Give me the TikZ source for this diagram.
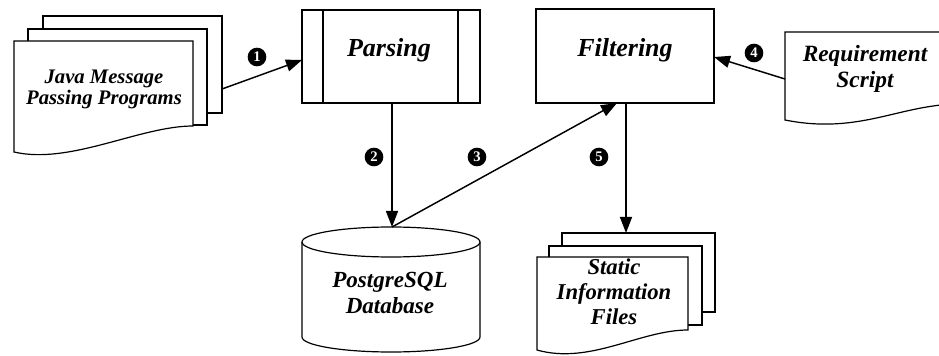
\documentclass[tikz,border=0pt]{standalone}
\usepackage{fontspec}
\setmainfont{Liberation Serif}
\newfontfamily\capfont{Liberation Serif Bold Italic}
\newfontfamily\numfont{Liberation Serif Bold}
\usetikzlibrary{arrows.meta}
\begin{document}
\begin{tikzpicture}[x=0.75pt,y=-0.75pt,
  outline/.style={draw=black,line width=0.9pt,fill=white},
  flow/.style={draw=black,line width=1.1pt,-{Triangle[length=12pt,width=9pt]}},
  stepnum/.style={circle,fill=black,text=white,inner sep=0pt,minimum size=14pt,
    font=\numfont\fontsize{11}{11}\selectfont},
  caption/.style={align=center,inner sep=0pt}
]
\useasboundingbox (0,0) rectangle (939,356);
\clip (0,0) rectangle (939,356);

% Java programs: a stack of three documents
\draw[outline] (43,16) rectangle (222,113);
\draw[outline] (28,29) rectangle (207,125);
\draw[outline] (14,41) -- (193,41) -- (193,126)
  .. controls (140,126) and (70,165) .. (14,152) -- cycle;

% Parsing process (predefined process box)
\draw[outline] (302,10) rectangle (480,103);
\draw[line width=0.9pt] (323,10) -- (323,103);
\draw[line width=0.9pt] (458,10) -- (458,103);

% Filtering process
\draw[outline] (536,9) rectangle (714,103);

% Requirement script document (runs off the right edge)
\draw[outline] (785,32) -- (960,32) -- (960,104)
  .. controls (900,104) and (860,135) .. (785,120) -- cycle;

% PostgreSQL database cylinder
\draw[outline] (302,242) -- (302,337)
  arc[start angle=180,end angle=0,x radius=89,y radius=15] -- (480,242);
\draw[outline] (391,242) ellipse[x radius=89,y radius=15];

% Static information files: a stack of three documents
\draw[outline] (562,233) rectangle (715,312);
\draw[outline] (549,246) rectangle (702,325);
\draw[outline] (537,257) -- (688,257) -- (688,330)
  .. controls (640,330) and (590,365) .. (537,350) -- cycle;

% Texts
\node[caption,font=\capfont\fontsize{15.5}{15.75}\selectfont] (javatxt) at (104,89)
  {Java Message\\Passing Programs};
\node[caption,font=\capfont\fontsize{19.5}{20}\selectfont] (parsetxt) at (389,50) {Parsing};
\node[caption,font=\capfont\fontsize{19.5}{20}\selectfont] (filtertxt) at (625,50) {Filtering};
\node[caption,font=\capfont\fontsize{17.5}{19.5}\selectfont] (reqtxt) at (865,69)
  {Requirement\\Script};
\node[caption,font=\capfont\fontsize{17.3}{19.5}\selectfont] (dbtxt) at (390,293)
  {PostgreSQL\\Database};
\node[caption,font=\capfont\fontsize{17}{18.75}\selectfont] (filestxt) at (614,292)
  {Static\\Information\\Files};

% Connector end points
\coordinate (jout) at (222,89);
\coordinate (pin) at (302,60);
\coordinate (pout) at (392,103);
\coordinate (dbtop) at (392,227);
\coordinate (fin) at (617,103);
\coordinate (rout) at (785,79);
\coordinate (fright) at (714,57);
\coordinate (fout) at (626,103);
\coordinate (filestop) at (626,233);

% Data flow
\draw[flow] (jout) -- (pin);
\draw[flow] (pout) -- (dbtop);
\draw[flow] (dbtop) -- (fin);
\draw[flow] (rout) -- (fright);
\draw[flow] (fout) -- (filestop);

% Step numbers
\node[stepnum] (n1) at (257,57) {1};
\node[stepnum] (n2) at (374,157) {2};
\node[stepnum] (n3) at (477,157) {3};
\node[stepnum] (n4) at (754,53) {4};
\node[stepnum] (n5) at (599,157) {5};
\end{tikzpicture}
\end{document}
